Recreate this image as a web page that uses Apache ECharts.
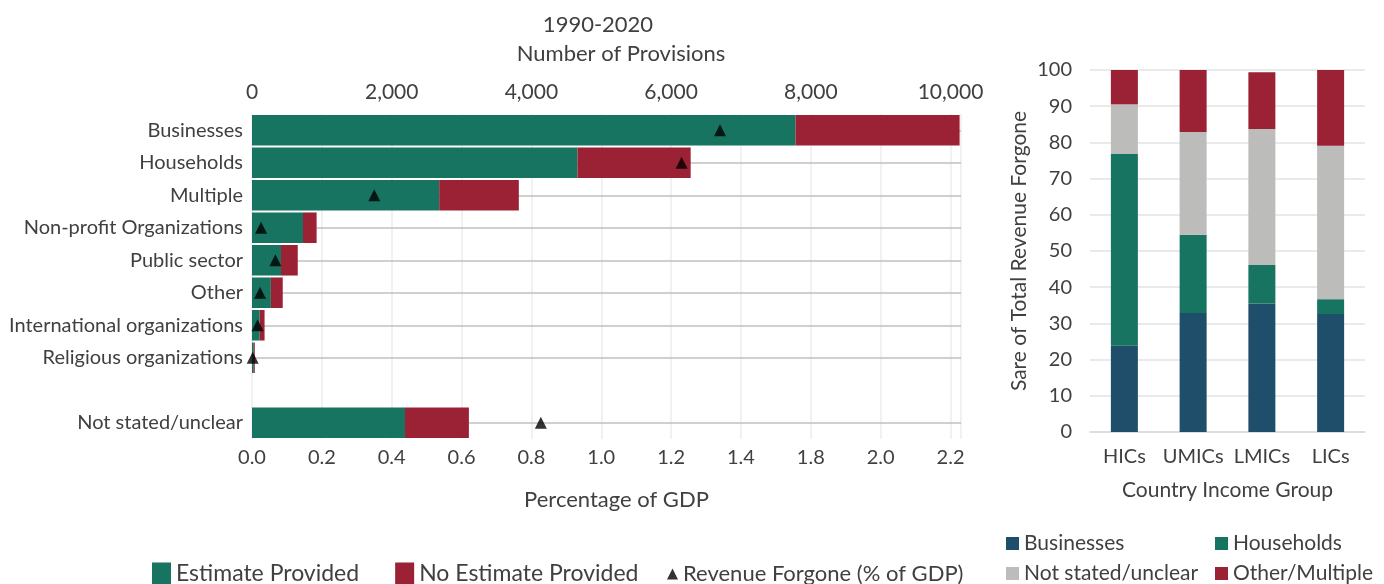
<!DOCTYPE html>
<html>
<head>
<meta charset="utf-8">
<script src="https://cdn.jsdelivr.net/npm/echarts@6/dist/echarts.min.js"></script>
<style>
  html, body { margin: 0; padding: 0; background: #fff; }
  #chart { width: 1384px; height: 584px; }
</style>
</head>
<body>
<div id="chart"></div>
<script>
// left panel: provisions by beneficiary (blank row separates "Not stated")
var categories = ['Businesses', 'Households', 'Multiple', 'Non-profit Organizations', 'Public sector', 'Other',
  'International organizations', 'Religious organizations', '', 'Not stated/unclear']
var estimateProvided = [7780, 4660, 2680, 730, 415, 270, 110, 25, null, 2190]
var noEstimateProvided = [2350, 1620, 1140, 195, 240, 170, 70, 15, null, 915]
var revenueForgone = [1.34, 1.23, 0.35, 0.026, 0.067, 0.023, 0.016, 0.002, null, 0.827]
var gdpTickLabels = ['0.0', '0.2', '0.4', '0.6', '0.8', '1.0', '1.2', '1.4', '1.8', '2.0', '2.2']

// right panel: share of total revenue forgone by income group
var incomeGroups = ['HICs', 'UMICs', 'LMICs', 'LICs']
var shareBusinesses = [23.8, 32.9, 35.5, 32.6]
var shareHouseholds = [53.0, 21.6, 10.6, 4.1]
var shareNotStated = [13.7, 28.4, 37.6, 42.4]
var shareOtherMultiple = [9.5, 17.1, 15.7, 20.9]

var GREEN = '#177461'
var RED = '#9b2135'
var BLUE = '#1f4e6b'
var GREY = '#bcbcba'
var TXT = '#404040'
var FONT = 'Lato'

var chart = echarts.init(document.getElementById('chart'))

var triangles = []
revenueForgone.forEach(function(v, i) {
  if (v !== null) triangles.push([v, categories[i]])
})

// one small legend per entry so the right-hand key sits in a 2x2 block
function keyItem(name, left, top) {
  return {
    data: [name], left: left, top: top, itemWidth: 13, itemHeight: 13,
    icon: 'rect', selectedMode: false,
    textStyle: { fontFamily: FONT, fontSize: 21, color: TXT }
  }
}

chart.setOption({
  animation: false,
  textStyle: { fontFamily: FONT, color: TXT },
  title: [
    { text: '1990-2020', left: 593, top: 9, textAlign: 'center',
      textStyle: { fontFamily: FONT, fontSize: 22, fontWeight: 'normal', color: TXT } },
    { text: 'Number of Provisions', left: 616, top: 38, textAlign: 'center',
      textStyle: { fontFamily: FONT, fontSize: 22, fontWeight: 'normal', color: TXT } }
  ],
  legend: [
    {
      data: ['Estimate Provided', 'No Estimate Provided'],
      left: 147, top: 557, itemWidth: 19, itemHeight: 22, itemGap: 36,
      icon: 'rect', selectedMode: false,
      textStyle: { fontFamily: FONT, fontSize: 23, color: TXT }
    },
    {
      data: [{ name: 'Revenue Forgone (% of GDP)', icon: 'triangle' }],
      left: 662, top: 558, itemWidth: 11, itemHeight: 11, selectedMode: false,
      textStyle: { fontFamily: FONT, fontSize: 22, color: TXT }
    },
    keyItem('Businesses', 1001, 528),
    keyItem('Households', 1210, 528),
    keyItem('Not stated/unclear', 1001, 558),
    keyItem('Other/Multiple', 1210, 558)
  ],
  grid: [
    { left: 252, right: 423, top: 114, height: 325 },
    { left: 1090, right: 19, top: 70, bottom: 152 }
  ],
  xAxis: [
    {
      type: 'value', gridIndex: 0, position: 'top', min: 0, max: 10150, interval: 2000,
      axisLine: { show: false }, axisTick: { show: false }, splitLine: { show: false },
      axisLabel: {
        showMaxLabel: false, margin: 11, fontSize: 21, color: TXT, fontFamily: FONT,
        formatter: function(v) { return v.toLocaleString('en-US') }
      }
    },
    {
      type: 'value', gridIndex: 0, position: 'bottom', min: 0, max: 2.03, interval: 0.2,
      axisLine: { show: false }, axisTick: { show: false },
      splitLine: { show: true, lineStyle: { color: '#ececec', width: 1.5 } },
      axisLabel: {
        showMaxLabel: false, margin: 9, fontSize: 20, color: TXT, fontFamily: FONT,
        formatter: function(v, i) { return gdpTickLabels[i] || '' }
      },
      name: 'Percentage of GDP', nameLocation: 'middle', nameGap: 50,
      nameTextStyle: { fontSize: 22, color: TXT, fontFamily: FONT, padding: [0, 0, 0, 20] }
    },
    {
      type: 'category', gridIndex: 1, data: incomeGroups,
      axisLine: { show: true, lineStyle: { color: '#d9d9d9', width: 1.5 } },
      axisTick: { show: false },
      axisLabel: { interval: 0, margin: 15, fontSize: 20, color: TXT, fontFamily: FONT },
      name: 'Country Income Group', nameLocation: 'middle', nameGap: 48,
      nameTextStyle: { fontSize: 21, color: TXT, fontFamily: FONT }
    }
  ],
  yAxis: [
    {
      type: 'category', gridIndex: 0, data: categories, inverse: true,
      axisLine: { show: false }, axisTick: { show: false },
      axisLabel: { margin: 9, fontSize: 20, color: TXT, fontFamily: FONT }
    },
    {
      type: 'value', gridIndex: 1, min: 0, max: 100, interval: 10,
      axisLine: { show: false }, axisTick: { show: false },
      splitLine: { lineStyle: { color: '#e3e3e3', width: 1.5 } },
      axisLabel: { margin: 18, fontSize: 20, color: TXT, fontFamily: FONT },
      name: 'Sare of Total Revenue Forgone', nameLocation: 'middle', nameGap: 60,
      nameTextStyle: { fontSize: 21, color: TXT, fontFamily: FONT }
    }
  ],
  series: [
    {
      name: 'Estimate Provided', type: 'bar', stack: 'prov',
      xAxisIndex: 0, yAxisIndex: 0, barCategoryGap: '6%',
      itemStyle: { color: GREEN }, emphasis: { disabled: true },
      data: estimateProvided,
      markLine: {
        silent: true, symbol: 'none', z: 1, label: { show: false },
        lineStyle: { color: '#c0c0c0', type: 'solid', width: 1.5 },
        data: categories.filter(function(c) { return c }).map(function(c) { return { yAxis: c } })
      }
    },
    {
      name: 'No Estimate Provided', type: 'bar', stack: 'prov',
      xAxisIndex: 0, yAxisIndex: 0, barCategoryGap: '6%',
      itemStyle: { color: RED }, emphasis: { disabled: true },
      data: noEstimateProvided
    },
    {
      name: 'Revenue Forgone (% of GDP)', type: 'scatter',
      xAxisIndex: 1, yAxisIndex: 0, symbol: 'triangle', symbolSize: 12, z: 5,
      itemStyle: { color: '#000' }, emphasis: { disabled: true },
      data: triangles
    },
    {
      name: 'Businesses', type: 'bar', stack: 'share', xAxisIndex: 2, yAxisIndex: 1,
      barWidth: 27, itemStyle: { color: BLUE }, emphasis: { disabled: true },
      data: shareBusinesses
    },
    {
      name: 'Households', type: 'bar', stack: 'share', xAxisIndex: 2, yAxisIndex: 1,
      barWidth: 27, itemStyle: { color: GREEN }, emphasis: { disabled: true },
      data: shareHouseholds
    },
    {
      name: 'Not stated/unclear', type: 'bar', stack: 'share', xAxisIndex: 2, yAxisIndex: 1,
      barWidth: 27, itemStyle: { color: GREY }, emphasis: { disabled: true },
      data: shareNotStated
    },
    {
      name: 'Other/Multiple', type: 'bar', stack: 'share', xAxisIndex: 2, yAxisIndex: 1,
      barWidth: 27, itemStyle: { color: RED }, emphasis: { disabled: true },
      data: shareOtherMultiple
    }
  ]
})
</script>
</body>
</html>
